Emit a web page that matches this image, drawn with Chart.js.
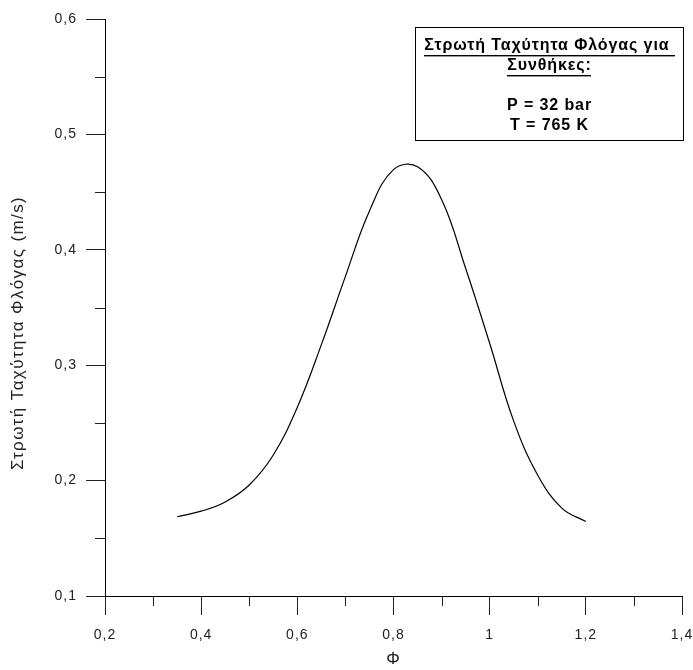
<!DOCTYPE html>
<html>
<head>
<meta charset="utf-8">
<script src="https://cdn.jsdelivr.net/npm/chart.js@4/dist/chart.umd.min.js"></script>
<style>
html,body{margin:0;padding:0;background:#fff;}
#wrap{width:693px;height:670px;position:relative;}
</style>
</head>
<body>
<div id="wrap"><canvas id="c" width="693" height="670"></canvas></div>
<script>
const phi = [0.35, 0.40, 0.45, 0.50, 0.55, 0.60, 0.65, 0.70, 0.75, 0.80, 0.85, 0.90, 0.95, 1.00, 1.05, 1.10, 1.15, 1.20];
const flameSpeed = [0.1687, 0.1735, 0.1815, 0.1962, 0.2222, 0.2635, 0.3178, 0.377, 0.4337, 0.4695, 0.472, 0.4436, 0.384, 0.319, 0.2515, 0.2046, 0.1762, 0.1645];
const xTicks = [0.2, 0.4, 0.6, 0.8, 1.0, 1.2, 1.4];
const yTicks = [0.1, 0.2, 0.3, 0.4, 0.5, 0.6];
const xMinor = [0.3, 0.5, 0.7, 0.9, 1.1, 1.3];
const yMinor = [0.15, 0.25, 0.35, 0.45, 0.55];
const yTitle = 'Στρωτή Ταχύτητα Φλόγας (m/s)';
const xTitle = 'Φ';
const boxLines = ['Στρωτή Ταχύτητα Φλόγας για ', 'Συνθήκες:', '', 'P = 32 bar', 'T = 765 K'];

const FONT = '"Liberation Sans", Arial, sans-serif';
const fmt = v => { const r = Math.round(v * 10) / 10; return String(r).replace('.', ','); };

const spacing = {
  id: 'spacing',
  beforeUpdate(chart) { chart.ctx.letterSpacing = '1px'; },
  beforeLayout(chart) { chart.ctx.letterSpacing = '1px'; },
  beforeDraw(chart) { chart.ctx.letterSpacing = '1px'; }
};

const minorTicks = {
  id: 'minorTicks',
  afterDraw(chart) {
    const ctx = chart.ctx, xs = chart.scales.x, ys = chart.scales.y;
    ctx.save();
    ctx.strokeStyle = '#222';
    ctx.lineWidth = 1;
    xMinor.forEach(v => {
      const px = Math.round(xs.getPixelForValue(v)) + 0.5;
      ctx.beginPath(); ctx.moveTo(px, ys.bottom); ctx.lineTo(px, ys.bottom + 10); ctx.stroke();
    });
    yMinor.forEach(v => {
      const py = Math.round(ys.getPixelForValue(v)) + 0.5;
      ctx.beginPath(); ctx.moveTo(xs.left - 10, py); ctx.lineTo(xs.left, py); ctx.stroke();
    });
    // y-axis title
    ctx.save();
    ctx.translate(18, 333);
    ctx.rotate(-Math.PI / 2);
    ctx.font = '17px ' + FONT;
    ctx.letterSpacing = '1.4px';
    ctx.fillStyle = '#222';
    ctx.textAlign = 'center';
    ctx.textBaseline = 'middle';
    ctx.fillText(yTitle, 0, 0);
    ctx.restore();
    ctx.restore();
  }
};

const infoBox = {
  id: 'infoBox',
  afterDraw(chart) {
    const ctx = chart.ctx;
    const bx = 415.5, by = 27.5, bw = 268, bh = 113;
    ctx.save();
    ctx.fillStyle = '#fff';
    ctx.fillRect(bx, by, bw, bh);
    ctx.strokeStyle = '#000';
    ctx.lineWidth = 1;
    ctx.strokeRect(bx, by, bw, bh);
    ctx.fillStyle = '#000';
    ctx.font = 'bold 16px ' + FONT;
    ctx.letterSpacing = '0.9px';
    ctx.textAlign = 'center';
    ctx.textBaseline = 'middle';
    const cx = bx + bw / 2;
    const ys = [46, 66, 86, 106, 126];
    boxLines.forEach((t, i) => {
      if (!t) return;
      ctx.fillText(t, cx, ys[i]);
      if (i < 2) {
        const w = ctx.measureText(t).width;
        ctx.fillRect(Math.round(cx - w / 2), ys[i] + 9, Math.round(w), 1.4);
      }
    });
    ctx.restore();
  }
};

new Chart(document.getElementById('c'), {
  type: 'line',
  data: {
    datasets: [{
      data: phi.map((x, i) => ({ x: x, y: flameSpeed[i] })),
      borderColor: '#000',
      borderWidth: 1.2,
      pointRadius: 0,
      fill: false,
      tension: 0.4
    }]
  },
  options: {
    responsive: false,
    animation: false,
    layout: { padding: { left: 0, top: 19, right: 11, bottom: 0 } },
    plugins: { legend: { display: false }, tooltip: { enabled: false } },
    scales: {
      x: {
        type: 'linear', min: 0.2, max: 1.4,
        afterBuildTicks: s => { s.ticks = xTicks.map(v => ({ value: v })); },
        afterFit: s => { s.height = 74; s.paddingLeft = 0; s.paddingRight = 0; },
        ticks: { callback: fmt, color: '#222', font: { family: FONT, size: 14 }, padding: 12, maxRotation: 0, autoSkip: false },
        grid: { drawOnChartArea: false, tickLength: 19, color: '#222', tickColor: '#222' },
        border: { display: true, color: '#000', width: 1 },
        title: { display: true, text: xTitle, color: '#222', font: { family: FONT, size: 17 }, padding: { top: 4, bottom: 0 } }
      },
      y: {
        type: 'linear', min: 0.1, max: 0.6,
        afterBuildTicks: s => { s.ticks = yTicks.map(v => ({ value: v })); },
        afterFit: s => { s.width = 105; s.paddingTop = 0; s.paddingBottom = 0; },
        ticks: { callback: fmt, color: '#222', font: { family: FONT, size: 14 }, padding: 9 },
        grid: { drawOnChartArea: false, tickLength: 19, color: '#222', tickColor: '#222' },
        border: { display: true, color: '#000', width: 1 },
        title: { display: false }
      }
    }
  },
  plugins: [spacing, minorTicks, infoBox]
});
</script>
</body>
</html>
